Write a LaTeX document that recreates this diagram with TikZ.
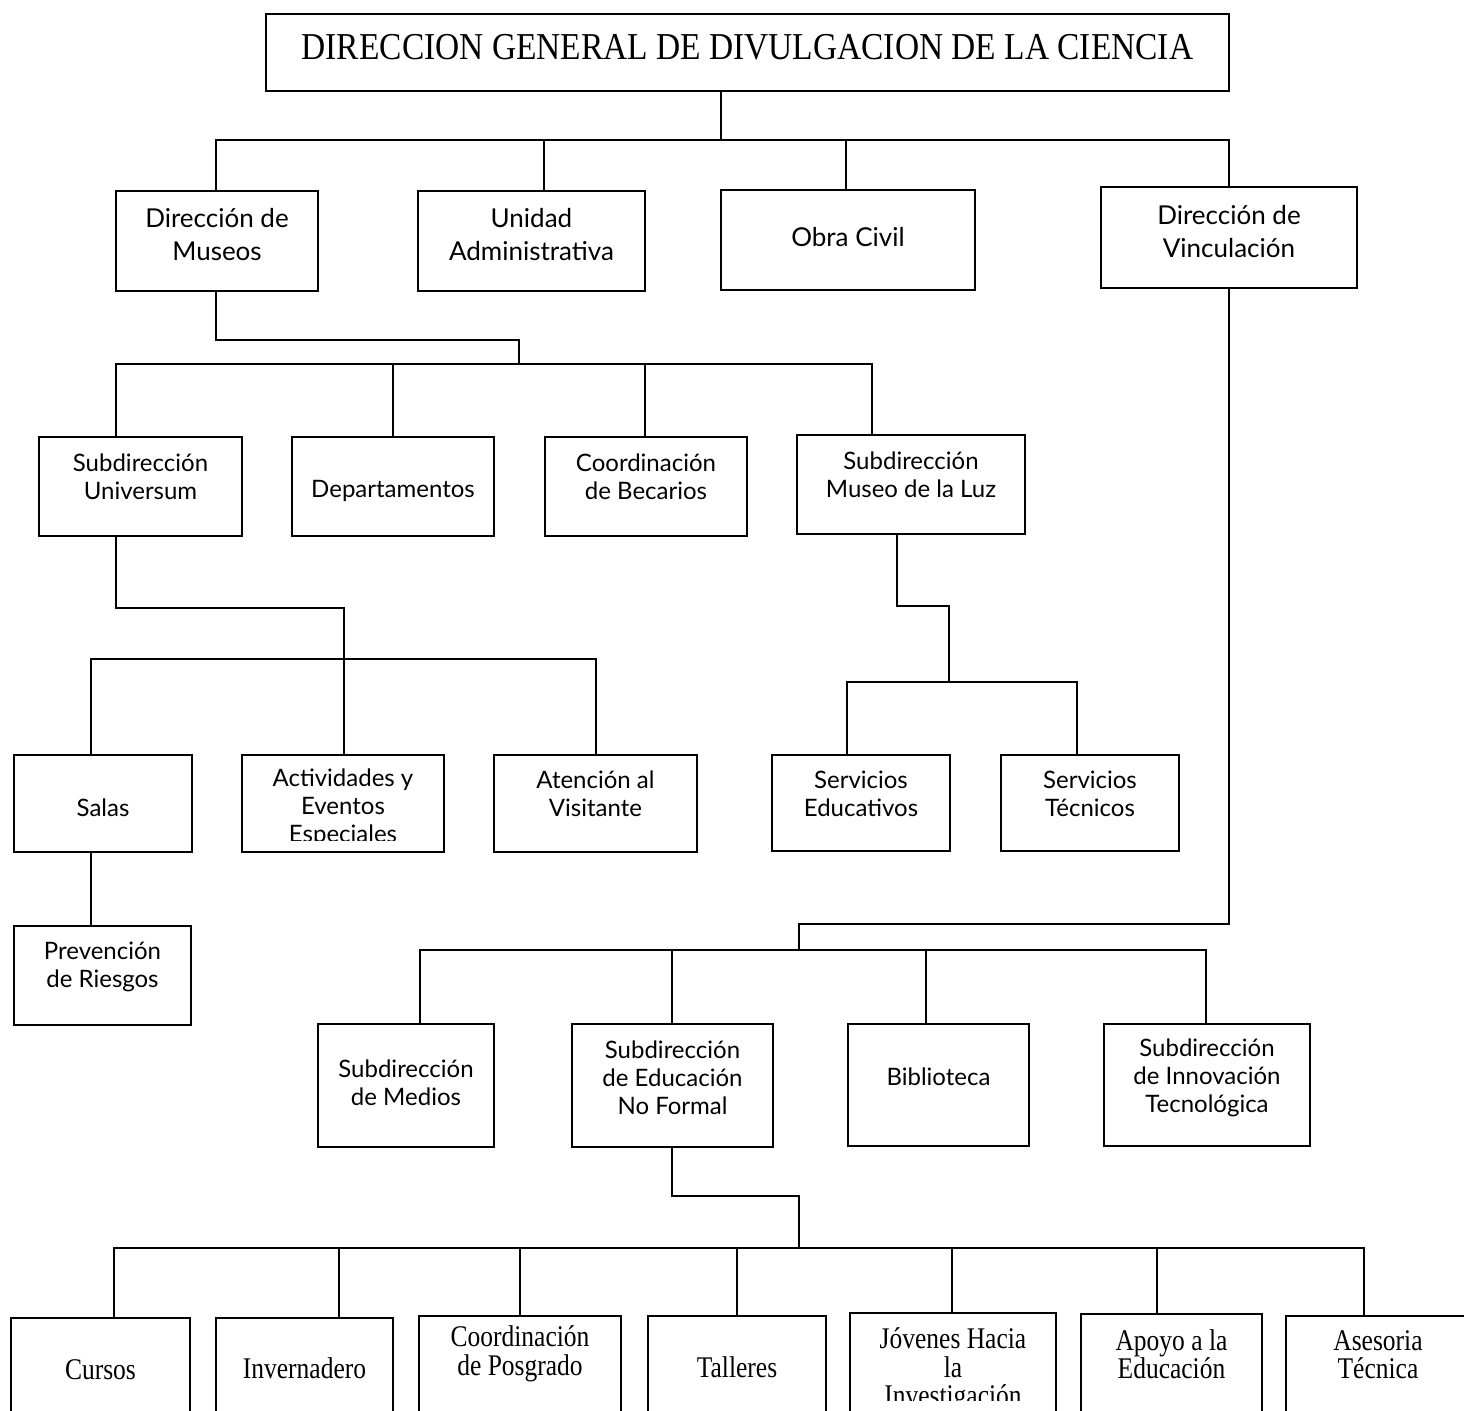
\documentclass[tikz,border=0pt]{standalone}
\usepackage{fontspec}
\setmainfont{Liberation Serif}
\newfontfamily\titlefamily{Liberation Serif}[FakeStretch=0.88]
\newfontfamily\boxserif{Liberation Serif}[FakeStretch=0.85]
\newfontfamily\boxsans{Lato}
\usetikzlibrary{calc}
\tikzset{
  orgbox/.style={draw, line width=1.2pt, inner sep=0pt},
  headbox/.style={draw, line width=1.2pt, align=center, inner sep=0pt},
  sz/.style 2 args={minimum width=#1*0.5pt, minimum height=#2*0.5pt},
  tone/.style={font=\boxsans\fontsize{13}{16.5}\selectfont, align=center, inner sep=0pt},
  ttwo/.style={font=\boxsans\fontsize{12}{14}\selectfont, align=center, inner sep=0pt},
  tlow/.style={font=\boxserif\fontsize{15}{14.2}\selectfont, align=center, inner sep=0pt},
  link/.style={line width=1pt}
}
\begin{document}
\begin{tikzpicture}[x=0.5pt,y=-0.5pt]

\fill[white] (0,0) rectangle (1464,1411);
\useasboundingbox (0,0) rectangle (1464,1411);
\clip (0,0) rectangle (1464,1411);

% ---------- boxes ----------
\node[headbox, sz={963}{77},
      label={[font=\titlefamily\fontsize{19}{20}\selectfont, inner sep=0pt, yshift=2.75pt]center:DIRECCION GENERAL DE DIVULGACION DE LA CIENCIA}]
      (top) at (747.5,52.5) {};

\node[orgbox, sz={202}{100}, label={[tone, yshift=3.25pt]center:Dirección de\\Museos}]   (dm) at (217,241) {};
\node[orgbox, sz={227}{100}, label={[tone, yshift=3.25pt]center:Unidad\\Administrativa}] (ua) at (531.5,241) {};
\node[orgbox, sz={254}{100}, label={[tone, yshift=1.5pt]center:Obra Civil}]              (oc) at (848,240) {};
\node[orgbox, sz={256}{101}, label={[tone, yshift=3pt]center:Dirección de\\Vinculación}] (dv) at (1229,237.5) {};

\node[orgbox, sz={203}{99}, label={[ttwo, yshift=4.75pt]center:Subdirección\\Universum}]      (su) at (140.5,486.5) {};
\node[orgbox, sz={202}{99}, label={[ttwo, yshift=-2.25pt]center:Departamentos}]               (dp) at (393,486.5) {};
\node[orgbox, sz={202}{99}, label={[ttwo, yshift=4.75pt]center:Coordinación\\de Becarios}]     (cb) at (646,486.5) {};
\node[orgbox, sz={228}{99}, label={[ttwo, yshift=4.75pt]center:Subdirección\\Museo de la Luz}] (ml) at (911,484.5) {};

\node[orgbox, sz={178}{97}, label={[ttwo, yshift=-2.25pt]center:Salas}] (sa) at (103,803.5) {};
% the third line is cut off by the bottom of its text frame
\node[orgbox, sz={202}{97},
      path picture={\clip ([yshift=5.5pt]path picture bounding box.south west)
                          rectangle (path picture bounding box.north east);
                    \node[ttwo] at ([yshift=-2.25pt]path picture bounding box.center)
                          {Actividades y\\Eventos\\Especiales};}]
      (ae) at (343,803.5) {};
\node[orgbox, sz={203}{97}, label={[ttwo, yshift=4.75pt]center:Atención al\\Visitante}] (av) at (595.5,803.5) {};
\node[orgbox, sz={178}{96}, label={[ttwo, yshift=4.5pt]center:Servicios\\Educativos}]   (se) at (861,803) {};
\node[orgbox, sz={178}{96}, label={[ttwo, yshift=4.5pt]center:Servicios\\Técnicos}]     (st) at (1090,803) {};

\node[orgbox, sz={177}{99}, label={[ttwo, yshift=4.5pt]center:Prevención\\de Riesgos}] (pr) at (102.5,975.5) {};

\node[orgbox, sz={176}{123}, label={[ttwo, yshift=1.5pt]center:Subdirección\\de Medios}]                   (sm)  at (406,1085.5) {};
\node[orgbox, sz={201}{123}, label={[ttwo, yshift=3.75pt]center:Subdirección\\de Educación\\No Formal}]     (sen) at (672.5,1085.5) {};
\node[orgbox, sz={181}{122}, label={[ttwo, yshift=4pt]center:Biblioteca}]                                  (bi)  at (938.5,1085) {};
\node[orgbox, sz={206}{122}, label={[ttwo, yshift=3.75pt]center:Subdirección\\de Innovación\\Tecnológica}] (si)  at (1207,1085) {};

\node[orgbox, sz={179}{98},  label={[tlow, yshift=-1.5pt]center:Cursos}]                   (cu)  at (100.5,1367) {};
\node[orgbox, sz={177}{98},  label={[tlow, yshift=-0.5pt]center:Invernadero}]              (inv) at (304.5,1367) {};
\node[orgbox, sz={202}{102}, label={[tlow, yshift=6.5pt]center:Coordinación\\de Posgrado}] (pos) at (520,1367) {};
\node[orgbox, sz={178}{102}, label={[tlow]center:Talleres}]                                (tal) at (737,1367) {};
\node[orgbox, sz={206}{108},
      path picture={\clip ([yshift=10.5pt]path picture bounding box.south west)
                          rectangle (path picture bounding box.north east);
                    \node[tlow] at ([yshift=-1.5pt]path picture bounding box.center)
                          {Jóvenes Hacia\\la\\Investigación};}]
      (jov) at (953,1367) {};
\node[orgbox, sz={181}{106}, label={[tlow, yshift=6.5pt]center:Apoyo a la\\Educación}]    (apo) at (1171.5,1367) {};
\node[orgbox, sz={184}{102}, label={[tlow, yshift=6.25pt]center:Asesoria\\Técnica}]       (ase) at (1378,1367) {};

% ---------- connectors ----------
% top level
\coordinate (t0) at (721,140);
\draw[link] (top.south -| t0) -- (t0);
\coordinate (b1L) at (216,140); \coordinate (b1R) at (1229,140);
\draw[link] (dm.north -| b1L) -- (b1L) -- (b1R) -- (dv.north -| b1R);
\coordinate (b1ua) at (544,140); \draw[link] (ua.north -| b1ua) -- (b1ua);
\coordinate (b1oc) at (846,140); \draw[link] (oc.north -| b1oc) -- (b1oc);

% Dirección de Museos
\coordinate (m1) at (216,340); \coordinate (m2) at (519,340); \coordinate (m3) at (519,364);
\draw[link] (dm.south -| m1) -- (m1) -- (m2) -- (m3);
\coordinate (b2L) at (116,364); \coordinate (b2R) at (872,364);
\draw[link] (su.north -| b2L) -- (b2L) -- (b2R) -- (ml.north -| b2R);
\coordinate (b2dp) at (393,364); \draw[link] (dp.north -| b2dp) -- (b2dp);
\coordinate (b2cb) at (645,364); \draw[link] (cb.north -| b2cb) -- (b2cb);

% Subdirección Universum
\coordinate (u1) at (116,608); \coordinate (u2) at (344,608);
\draw[link] (su.south -| u1) -- (u1) -- (u2) -- (ae.north -| u2);
\coordinate (b3L) at (91,659); \coordinate (b3R) at (596,659);
\draw[link] (sa.north -| b3L) -- (b3L) -- (b3R) -- (av.north -| b3R);
\draw[link] (sa.south -| b3L) -- (pr.north -| b3L);

% Subdirección Museo de la Luz
\coordinate (l1) at (897,606); \coordinate (l2) at (949,606); \coordinate (l3) at (949,682);
\draw[link] (ml.south -| l1) -- (l1) -- (l2) -- (l3);
\coordinate (b4L) at (847,682); \coordinate (b4R) at (1077,682);
\draw[link] (se.north -| b4L) -- (b4L) -- (b4R) -- (st.north -| b4R);

% Dirección de Vinculación
\coordinate (v1) at (1229,924); \coordinate (v2) at (799,924); \coordinate (v3) at (799,950);
\draw[link] (dv.south -| v1) -- (v1) -- (v2) -- (v3);
\coordinate (b5L) at (420,950); \coordinate (b5R) at (1206,950);
\draw[link] (sm.north -| b5L) -- (b5L) -- (b5R) -- (si.north -| b5R);
\coordinate (b5en) at (672,950); \draw[link] (sen.north -| b5en) -- (b5en);
\coordinate (b5bi) at (926,950); \draw[link] (bi.north -| b5bi) -- (b5bi);

% Subdirección de Educación No Formal
\coordinate (e1) at (672,1196); \coordinate (e2) at (799,1196); \coordinate (e3) at (799,1248);
\draw[link] (sen.south -| e1) -- (e1) -- (e2) -- (e3);
\coordinate (b6L) at (114,1248); \coordinate (b6R) at (1364,1248);
\draw[link] (cu.north -| b6L) -- (b6L) -- (b6R) -- (ase.north -| b6R);
\coordinate (b6inv) at (339,1248);  \draw[link] (inv.north -| b6inv) -- (b6inv);
\coordinate (b6pos) at (520,1248);  \draw[link] (pos.north -| b6pos) -- (b6pos);
\coordinate (b6tal) at (737,1248);  \draw[link] (tal.north -| b6tal) -- (b6tal);
\coordinate (b6jov) at (952,1248);  \draw[link] (jov.north -| b6jov) -- (b6jov);
\coordinate (b6apo) at (1157,1248); \draw[link] (apo.north -| b6apo) -- (b6apo);
\end{tikzpicture}
\end{document}
